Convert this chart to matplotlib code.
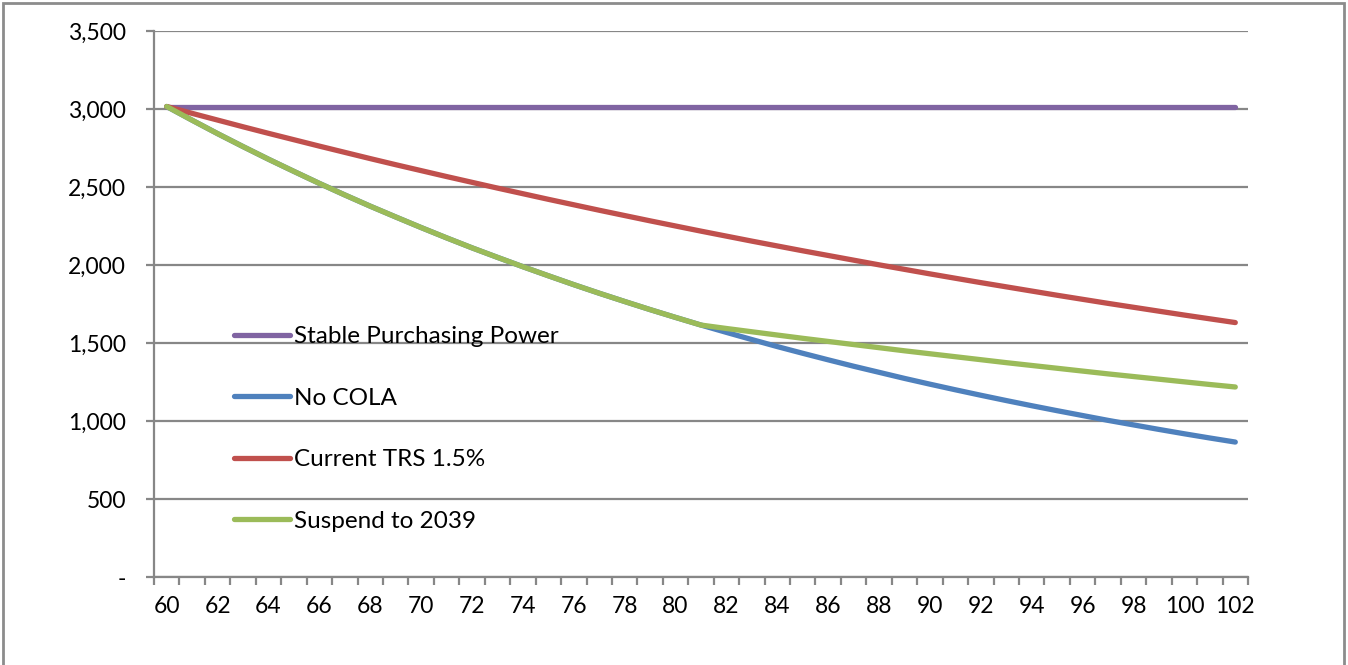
import numpy as np
import matplotlib
matplotlib.use("Agg")
import matplotlib.pyplot as plt
from matplotlib.patches import Rectangle
from matplotlib.ticker import FuncFormatter

plt.rcParams['font.family'] = ['Lato', 'DejaVu Sans']

# ages on the category axis
ages = list(range(60, 103))

stable = [3016] * 43
no_cola = [3016, 2928, 2842, 2759, 2678, 2600, 2523, 2449, 2377, 2308,
           2240, 2174, 2110, 2049, 1989, 1931, 1874, 1819, 1766, 1714,
           1664, 1615, 1568, 1522, 1477, 1434, 1392, 1351, 1312, 1273,
           1236, 1200, 1165, 1131, 1098, 1066, 1035, 1004, 975, 946,
           918, 891, 865]
current_trs = [3016, 2972, 2929, 2886, 2844, 2803, 2762, 2722, 2682, 2643,
               2605, 2567, 2530, 2493, 2457, 2421, 2386, 2351, 2317, 2283,
               2250, 2217, 2185, 2153, 2122, 2091, 2061, 2031, 2001, 1972,
               1943, 1915, 1887, 1860, 1833, 1806, 1780, 1754, 1729, 1704,
               1679, 1655, 1631]
suspend = [3016, 2928, 2842, 2759, 2678, 2600, 2523, 2449, 2377, 2308,
           2240, 2174, 2110, 2049, 1989, 1931, 1874, 1819, 1766, 1714,
           1664, 1615, 1593, 1572, 1551, 1530, 1510, 1490, 1470, 1450,
           1431, 1412, 1393, 1374, 1356, 1338, 1320, 1302, 1285, 1268,
           1251, 1234, 1218]

labels = ["Stable Purchasing Power", "No COLA", "Current TRS 1.5%", "Suspend to 2039"]
colors = ["#8064A2", "#4F81BD", "#C0504D", "#9BBB59"]
grid_col = "#878787"

W, H = 1348, 665
fig = plt.figure(figsize=(W / 100, H / 100), dpi=100)
ax = fig.add_axes([154 / W, 1 - 577 / H, (1248 - 154) / W, (577 - 31) / H])

x = np.arange(len(ages))
for series, lab, col in zip([stable, no_cola, current_trs, suspend], labels, colors):
    ax.plot(x, series, color=col, lw=3.8, label=lab, solid_capstyle='round')

ax.set_xlim(-0.5, len(ages) - 0.5)
ax.set_ylim(0, 3500)
ax.set_yticks(np.arange(0, 3501, 500))
ax.yaxis.set_major_formatter(FuncFormatter(lambda v, p: "-" if v == 0 else f"{int(v):,}"))
ax.grid(axis='y', color=grid_col, lw=1.6)
ax.set_axisbelow(True)

ax.set_xticks(x[::2])
ax.set_xticklabels([str(a) for a in ages[::2]])
ax.set_xticks(np.arange(-0.5, len(ages), 1), minor=True)
ax.tick_params(axis='x', which='major', length=0, pad=14, labelsize=16.5, colors='black')
ax.tick_params(axis='x', which='minor', length=6, width=1.6, color=grid_col, direction='out')
ax.tick_params(axis='y', length=6, width=1.6, color=grid_col, pad=14, labelsize=16.5)

for s in ['top', 'right']:
    ax.spines[s].set_visible(False)
for s in ['left', 'bottom']:
    ax.spines[s].set_color(grid_col)
    ax.spines[s].set_linewidth(1.6)

ax.legend(loc='upper left', bbox_to_anchor=(234 / W, 1 - 326 / H), bbox_transform=fig.transFigure,
          frameon=False, fontsize=17.5, handlelength=2.3, handletextpad=0.15,
          labelspacing=1.67, borderpad=0, borderaxespad=0)

fig.add_artist(Rectangle((3 / W, -0.05), (1344 - 3) / W, 1.05 - 3 / H, transform=fig.transFigure,
                         fill=False, edgecolor="#8c8c8c", lw=2))

fig.savefig("out.png", dpi=100)
